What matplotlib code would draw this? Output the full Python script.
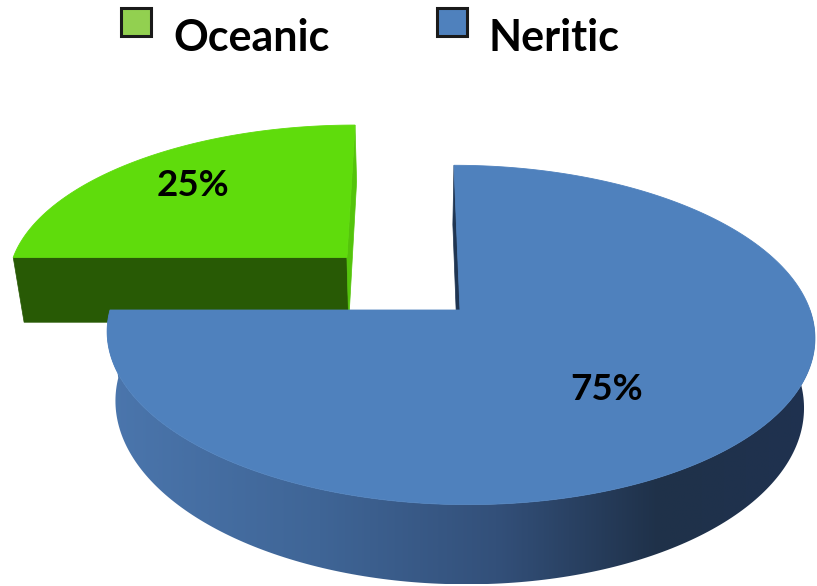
import numpy as np
import matplotlib
matplotlib.use("Agg")
import matplotlib.pyplot as plt
from matplotlib.patches import Polygon, Rectangle
from matplotlib.colors import LinearSegmentedColormap

# Data
categories = ["Oceanic", "Neritic"]
values = [25, 75]
top_colors = ["#5FDC0C", "#4F81BD"]
start_face_colors = ["#285A05", "#1F3552"]
end_face_colors = ["#54C40B", "#1F3552"]
legend_colors = ["#92D050", "#4F81BD"]
explode = [0.47, 0.0]

# Canvas in pixel units
W, H = 817, 586
fig = plt.figure(figsize=(W / 100, H / 100), dpi=100)
ax = fig.add_axes([0, 0, 1, 1])
ax.set_xlim(0, W)
ax.set_ylim(H, 0)
ax.axis("off")

# 3-D pie geometry: tilted disk seen in perspective from front-left-above
CX, CY = 460.0, 310.0
RX, RY = 350.0, 166.0
K = 0.147          # perspective strength (far side smaller)
D = 47.0           # horizontal offset of the vanishing point from the centre
ZK = 0.0004        # convergence of vertical edges
DEPTH = 68.0       # thickness of the pie
START = 180.0      # first slice starts at 9 o'clock, runs clockwise
LABEL_R = [0.72, 0.55]
LABEL_Z = [0.0, 10.0]
XV = CX - D


def project(u, v, z=0.0):
    u = np.asarray(u, float)
    v = np.asarray(v, float)
    s = 1.0 + K * v
    x = XV + (RX * u + D) / s * (1.0 - ZK * z)
    y = CY + (-RY * v + z) / s
    return np.column_stack([np.atleast_1d(x), np.atleast_1d(y)])


def arc(cu, cv, a0, a1, n=200):
    t = np.radians(np.linspace(a0, a1, n))
    return cu + np.cos(t), cv + np.sin(t)


def shoelace(p):
    x, y = p[:, 0], p[:, 1]
    return np.sum(x * np.roll(y, -1) - np.roll(x, -1) * y)


def wall_gradient_fill(poly_pts, stops, zorder):
    poly = Polygon(poly_pts, closed=True, facecolor="none", edgecolor="none")
    ax.add_patch(poly)
    cmap = LinearSegmentedColormap.from_list("wall", stops)
    x0, x1 = poly_pts[:, 0].min(), poly_pts[:, 0].max()
    y0, y1 = poly_pts[:, 1].min(), poly_pts[:, 1].max()
    grad = np.linspace(0, 1, 512)[None, :]
    im = ax.imshow(grad, cmap=cmap, extent=(x0, x1, y1, y0), aspect="auto",
                   interpolation="bilinear", zorder=zorder)
    im.set_clip_path(poly)


total = float(sum(values))
wall_stops = [(0.0, "#4B76AD"), (0.3, "#3F6596"), (0.55, "#33507A"),
              (0.78, "#1F3149"), (1.0, "#1F3250")]

cum = 0.0
for i, (cat, val) in enumerate(zip(categories, values)):
    a0 = START - cum / total * 360.0
    a1 = a0 - val / total * 360.0
    cum += val
    mid = np.radians((a0 + a1) / 2.0)
    cu, cv = explode[i] * np.cos(mid), explode[i] * np.sin(mid)
    z0 = 2 * i

    # radial side faces (start edge normal = a0+90, end edge normal = a1-90)
    for ang, is_start in ((a0, True), (a1, False)):
        ou, ov = cu + np.cos(np.radians(ang)), cv + np.sin(np.radians(ang))
        if is_start:
            pts = np.vstack([project(cu, cv), project(ou, ov),
                             project(ou, ov, DEPTH), project(cu, cv, DEPTH)])
            col = start_face_colors[i]
        else:
            pts = np.vstack([project(ou, ov), project(cu, cv),
                             project(cu, cv, DEPTH), project(ou, ov, DEPTH)])
            col = end_face_colors[i]
        if shoelace(pts) < 0:
            ax.add_patch(Polygon(pts, closed=True, facecolor=col,
                                 edgecolor=col, lw=0.5, zorder=z0))

    # outer curved wall (front half only)
    lo, hi = max(a1, -180.0), min(a0, 0.0)
    if hi > lo:
        au, av = arc(cu, cv, lo, hi)
        top = project(au, av)
        bot = project(au, av, DEPTH)
        wall = np.vstack([top, bot[::-1]])
        wall_gradient_fill(wall, wall_stops, z0 + 0.5)

    # top face
    au, av = arc(cu, cv, a0, a1, 300)
    face = np.vstack([project(cu, cv), project(au, av)])
    ax.add_patch(Polygon(face, closed=True, facecolor=top_colors[i],
                         edgecolor=top_colors[i], lw=0.6, zorder=z0 + 1))

    # percentage label
    lp = project(cu + LABEL_R[i] * np.cos(mid), cv + LABEL_R[i] * np.sin(mid),
                 LABEL_Z[i])[0]
    ax.text(lp[0], lp[1], f"{val / total * 100:.0f}%", ha="center", va="center",
            fontsize=26.5, fontweight="bold", family="Lato", color="black",
            zorder=10)

# Legend
legend_x = [121, 437]
for i, cat in enumerate(categories):
    ax.add_patch(Rectangle((legend_x[i], 8), 30, 28, facecolor=legend_colors[i],
                           edgecolor="#1a1a1a", lw=2.2, zorder=10))
    ax.text(legend_x[i] + 52, 51, cat, ha="left", va="baseline", fontsize=31,
            fontweight="bold", family="Lato", color="black", zorder=10)

fig.savefig("out.png", dpi=100, facecolor="white")
